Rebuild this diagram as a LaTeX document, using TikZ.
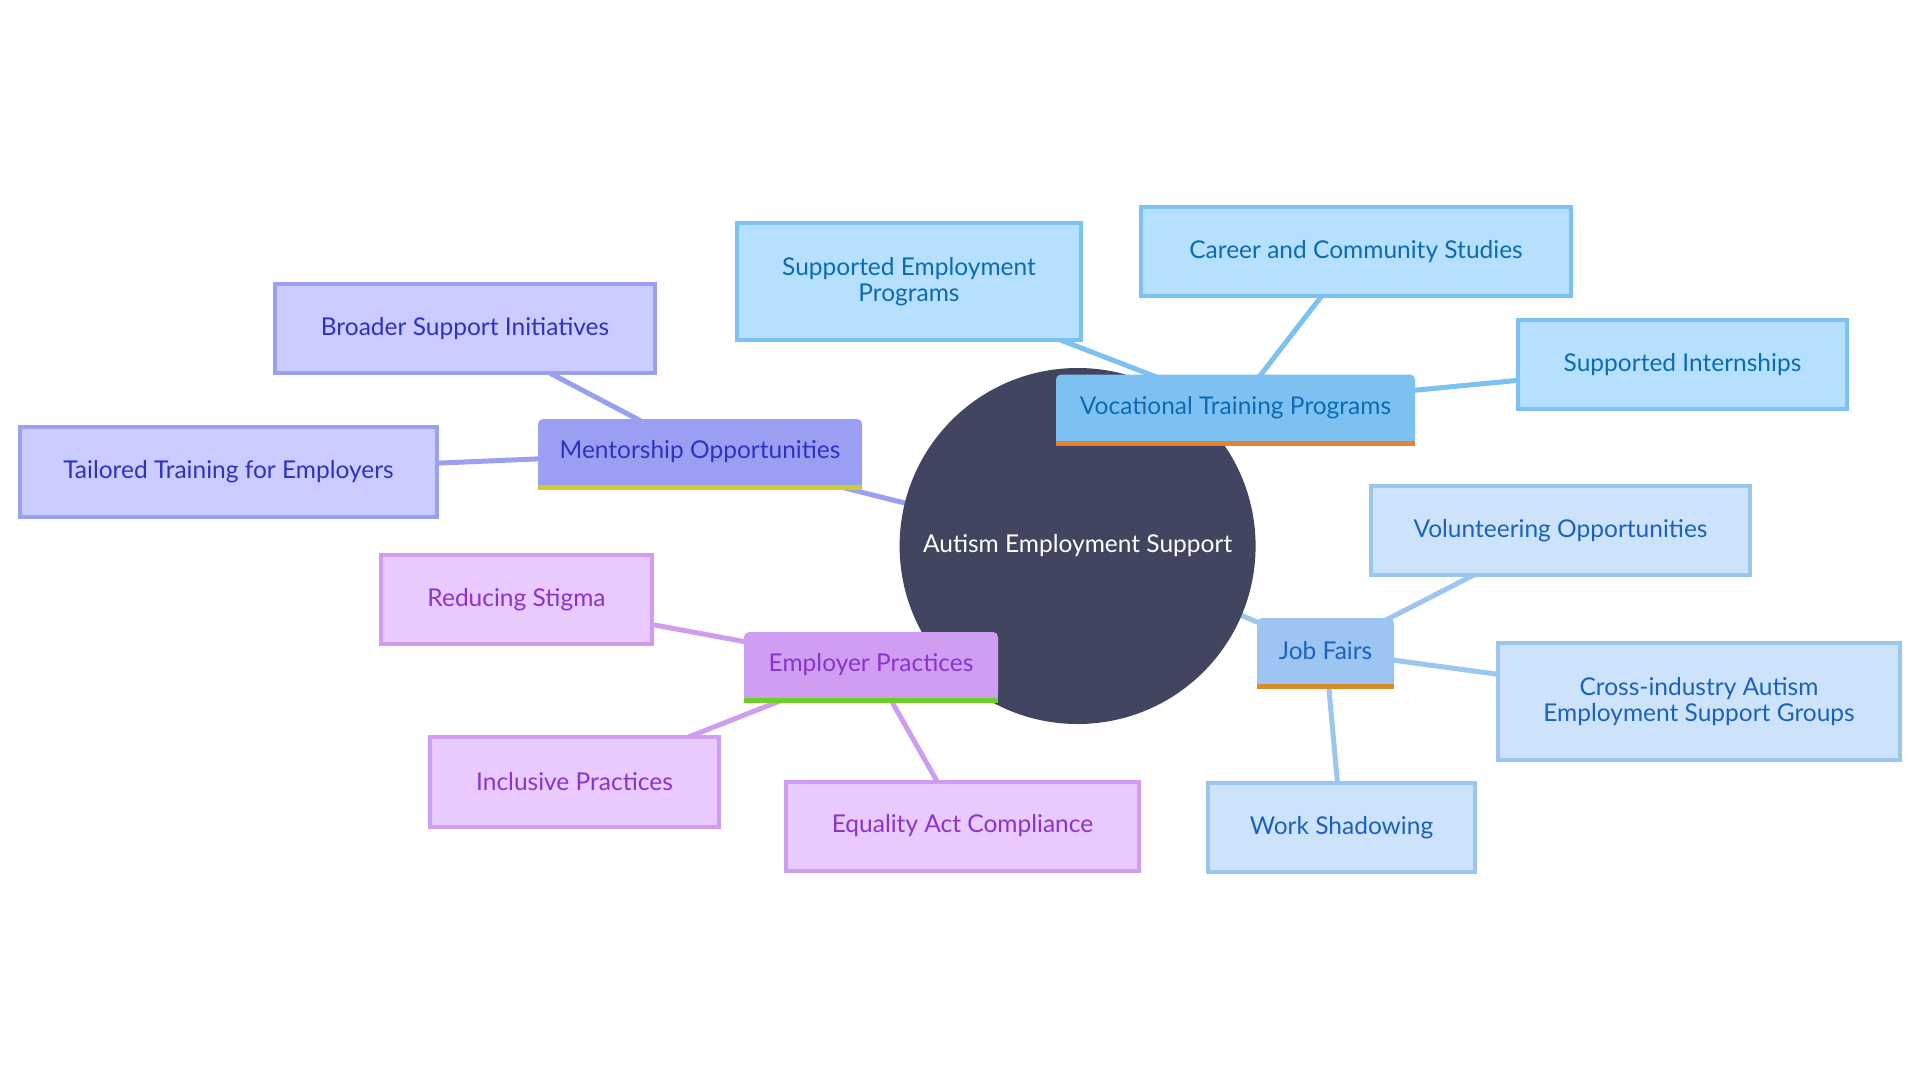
\documentclass[tikz,border=0pt]{standalone}
\usepackage{fontspec}
\setmainfont{Lato}
\usepackage{tikz}
\usetikzlibrary{positioning,backgrounds}

\definecolor{hubfill}{HTML}{414560}
% mentorship
\definecolor{mfill}{HTML}{9A9FF2}
\definecolor{mleaf}{HTML}{CACCFF}
\definecolor{mline}{HTML}{9A9FF0}
\definecolor{mtext}{HTML}{2D33C0}
\definecolor{mbar}{HTML}{D6CB2C}
% vocational
\definecolor{vfill}{HTML}{7DC1F2}
\definecolor{vleaf}{HTML}{B6E0FF}
\definecolor{vline}{HTML}{7DC1F0}
\definecolor{vtext}{HTML}{0C6BB3}
\definecolor{vbar}{HTML}{E38135}
% job fairs
\definecolor{jfill}{HTML}{9CC5F2}
\definecolor{jleaf}{HTML}{CDE3FC}
\definecolor{jline}{HTML}{9CC5F0}
\definecolor{jtext}{HTML}{1A62BE}
\definecolor{jbar}{HTML}{D98A2B}
% employer
\definecolor{efill}{HTML}{CF9DF2}
\definecolor{eleaf}{HTML}{E8CAFF}
\definecolor{eline}{HTML}{CF9DF0}
\definecolor{etext}{HTML}{8B33CC}
\definecolor{ebar}{HTML}{6CD02A}

\begin{document}
\begin{tikzpicture}[x=1pt, y=-1pt, font=\fontsize{24.5}{26}\selectfont]
\tikzstyle{branch}=[rectangle, rounded corners=5pt, inner sep=0pt, outer sep=0pt, minimum height=66pt]
\tikzstyle{leaf}=[rectangle, draw, line width=4pt, inner sep=0pt, align=center, minimum height=89pt]
\tikzstyle{mleafs}=[leaf, fill=mleaf, draw=mline, text=mtext]
\tikzstyle{vleafs}=[leaf, fill=vleaf, draw=vline, text=vtext]
\tikzstyle{jleafs}=[leaf, fill=jleaf, draw=jline, text=jtext]
\tikzstyle{eleafs}=[leaf, fill=eleaf, draw=eline, text=etext]
\tikzstyle{link}=[line width=5pt]
\useasboundingbox (0,0) rectangle (1920,1080);

\node[circle, fill=hubfill, text=white, minimum size=356pt, inner sep=0pt] (hub) at (1077.6,546) {Autism Employment Support};

% branches
\node[branch, fill=mfill, text=mtext, minimum width=324pt] (mentor) at (700,452)    {Mentorship Opportunities};
\node[branch, fill=vfill, text=vtext, minimum width=359pt] (voc)    at (1235.5,407.5) {Vocational Training Programs};
\node[branch, fill=efill, text=etext, minimum width=254pt] (empl)   at (871,665)    {Employer Practices};
\node[branch, fill=jfill, text=jtext, minimum width=137pt] (fairs)  at (1325.5,651) {Job Fairs};
\foreach \n/\f/\b in {mentor/mfill/mbar, voc/vfill/vbar, empl/efill/ebar, fairs/jfill/jbar}{
  \fill[\f] ([yshift=6pt]\n.south west) rectangle (\n.south east);
  \fill[\b] (\n.south west) rectangle ([yshift=-5pt]\n.south east);
}

% leaves
\node[mleafs, minimum width=380pt] (broad)  at (465,328.5)  {Broader Support Initiatives};
\node[mleafs, minimum width=417pt, minimum height=90pt] (tailor) at (228.5,472) {Tailored Training for Employers};
\node[vleafs, minimum width=344pt, minimum height=117pt] (sep) at (909,281.5) {Supported Employment\\Programs};
\node[vleafs, minimum width=430pt] (career) at (1356,251.5) {Career and Community Studies};
\node[vleafs, minimum width=329pt] (intern) at (1682.5,364.5) {Supported Internships};
\node[jleafs, minimum width=379pt] (volun)  at (1560.5,530.5) {Volunteering Opportunities};
\node[jleafs, minimum width=402pt, minimum height=117pt] (cross) at (1699,701.5) {Cross-industry Autism\\Employment Support Groups};
\node[jleafs, minimum width=267pt] (shadow) at (1341.5,827.5) {Work Shadowing};
\node[eleafs, minimum width=271pt] (stigma) at (516.5,599.5) {Reducing Stigma};
\node[eleafs, minimum width=289pt, minimum height=90pt] (incl) at (574.5,782) {Inclusive Practices};
\node[eleafs, minimum width=353pt] (equal)  at (962.5,826)  {Equality Act Compliance};

\begin{pgfonlayer}{background}
\fill[white] (0,0) rectangle (1920,1080);
\path[link, draw=mline]
(hub.center)    edge (mentor.center)
(mentor.center) edge (broad.center)
                edge (tailor.center);
\path[link, draw=vline]
(hub.center)    edge (voc.center)
(voc.center)    edge (sep.center)
                edge (career.center)
                edge (intern.center);
\path[link, draw=jline]
(hub.center)    edge (fairs.center)
(fairs.center)  edge (volun.center)
                edge (cross.center)
                edge (shadow.center);
\path[link, draw=eline]
(hub.center)    edge (empl.center)
(empl.center)   edge (stigma.center)
                edge (incl.center)
                edge (equal.center);
\end{pgfonlayer}
\end{tikzpicture}
\end{document}
